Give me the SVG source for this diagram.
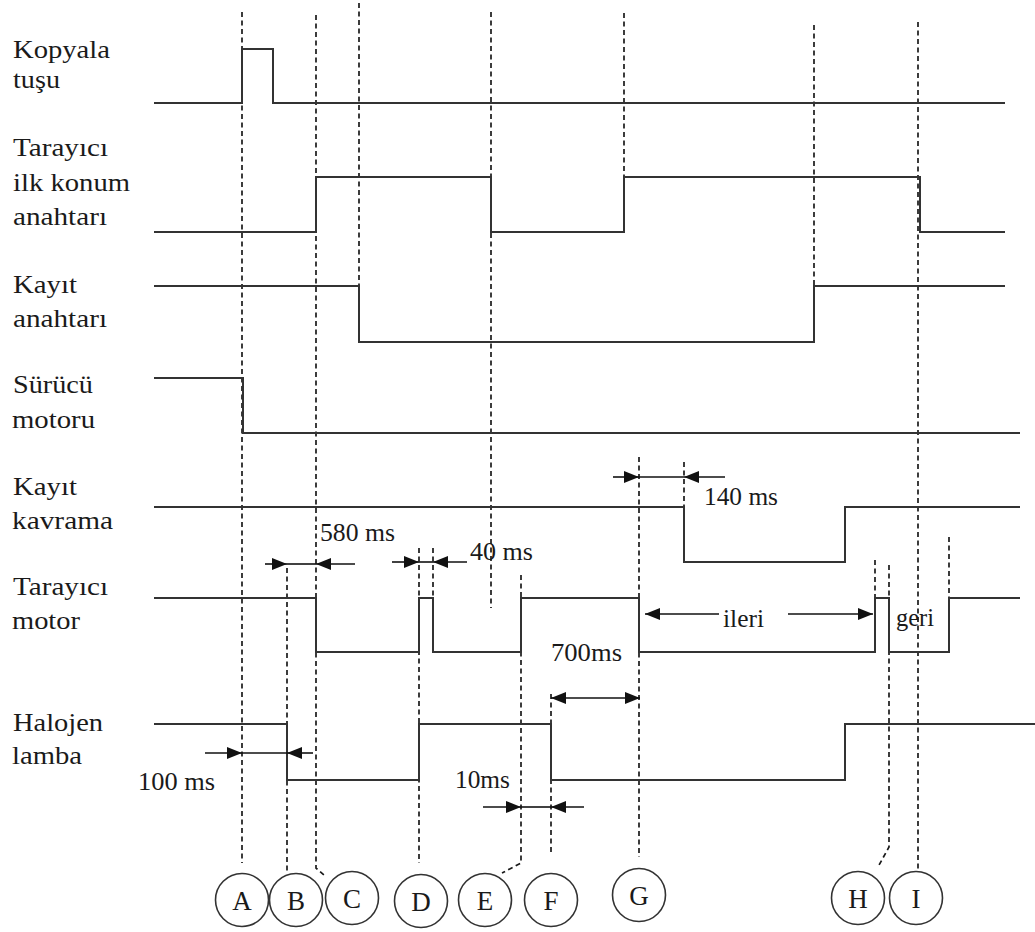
<svg xmlns="http://www.w3.org/2000/svg" width="1035" height="932" viewBox="0 0 1035 932">
<style>
  .bg { fill: #ffffff; }
  .lbl { font-family: "Liberation Serif", "Times New Roman", serif; font-size: 26px; fill: #1a1a1a; }
  .dim { font-family: "Liberation Serif", "Times New Roman", serif; font-size: 25px; fill: #1a1a1a; }
  .sig { fill: none; stroke: #333; stroke-width: 2; }
  .dash { fill: none; stroke: #1a1a1a; stroke-width: 1.7; stroke-dasharray: 5 3.5; }
  .arr { fill: none; stroke: #111; stroke-width: 1.6; }
  .circ { fill: #ffffff; stroke: #333; stroke-width: 1.6; }
  .cl { font-family: "Liberation Serif", "Times New Roman", serif; font-size: 27px; fill: #1a1a1a; text-anchor: middle; }
</style>
<defs>
  <marker id="ah" viewBox="0 0 15 12" refX="15" refY="6" markerWidth="15" markerHeight="12" markerUnits="userSpaceOnUse" orient="auto">
    <path d="M0,0 L15,6 L0,12 Z" fill="#111"/>
  </marker>
</defs>
<rect class="bg" x="0" y="0" width="1035" height="932"/>

<g id="connectors">
  <path class="dash" d="M242,12 V863"/>
  <path class="dash" d="M287,568 V873"/>
  <path class="dash" d="M316,15 V868 L325,876"/>
  <path class="dash" d="M359,3 V286"/>
  <path class="dash" d="M491,12 V608"/>
  <path class="dash" d="M419,548 V863"/>
  <path class="dash" d="M433,548 V598"/>
  <path class="dash" d="M521,575 V863 L502,873"/>
  <path class="dash" d="M551,694 V853"/>
  <path class="dash" d="M639,457 V857"/>
  <path class="dash" d="M684,462 V507"/>
  <path class="dash" d="M624,13 V232"/>
  <path class="dash" d="M814,25 V342"/>
  <path class="dash" d="M875,560 V598"/>
  <path class="dash" d="M889,565 V847 L878,867"/>
  <path class="dash" d="M918,22 V871"/>
  <path class="dash" d="M949,537 V598"/>
</g>

<g id="row-kopyala">
  <text class="lbl" x="13" y="58" textLength="97" lengthAdjust="spacingAndGlyphs">Kopyala</text>
  <text class="lbl" x="13" y="88" textLength="47" lengthAdjust="spacingAndGlyphs">tuşu</text>
  <path class="sig" d="M154,103 H242 V49 H273 V103 H1005"/>
</g>
<g id="row-tarayici-ilk-konum">
  <text class="lbl" x="13" y="156" textLength="95" lengthAdjust="spacingAndGlyphs">Tarayıcı</text>
  <text class="lbl" x="13" y="191" textLength="117" lengthAdjust="spacingAndGlyphs">ilk konum</text>
  <text class="lbl" x="13" y="225" textLength="94" lengthAdjust="spacingAndGlyphs">anahtarı</text>
  <path class="sig" d="M154,232 H316 V177 H491 V232 H624 V177 H920 V232 H1005"/>
</g>
<g id="row-kayit-anahtari">
  <text class="lbl" x="13" y="293" textLength="64" lengthAdjust="spacingAndGlyphs">Kayıt</text>
  <text class="lbl" x="13" y="327" textLength="94" lengthAdjust="spacingAndGlyphs">anahtarı</text>
  <path class="sig" d="M154,286 H359 V342 H814 V286 H1005"/>
</g>
<g id="row-surucu-motoru">
  <text class="lbl" x="13" y="393" textLength="80" lengthAdjust="spacingAndGlyphs">Sürücü</text>
  <text class="lbl" x="12" y="428" textLength="83" lengthAdjust="spacingAndGlyphs">motoru</text>
  <path class="sig" d="M154,378 H243 V433 H1020"/>
</g>
<g id="row-kayit-kavrama">
  <text class="lbl" x="13" y="495" textLength="64" lengthAdjust="spacingAndGlyphs">Kayıt</text>
  <text class="lbl" x="12" y="529" textLength="101" lengthAdjust="spacingAndGlyphs">kavrama</text>
  <path class="sig" d="M154,507 H684 V562 H845 V507 H1020"/>
</g>
<g id="row-tarayici-motor">
  <text class="lbl" x="13" y="595" textLength="95" lengthAdjust="spacingAndGlyphs">Tarayıcı</text>
  <text class="lbl" x="12" y="629" textLength="68" lengthAdjust="spacingAndGlyphs">motor</text>
  <path class="sig" d="M154,598 H316 V652 H419 V598 H433 V652 H521 V598 H639 V652 H875 V598 H889 V652 H949 V598 H1020"/>
</g>
<g id="row-halojen-lamba">
  <text class="lbl" x="13" y="731" textLength="90" lengthAdjust="spacingAndGlyphs">Halojen</text>
  <text class="lbl" x="12" y="764" textLength="70" lengthAdjust="spacingAndGlyphs">lamba</text>
  <path class="sig" d="M154,724 H287 V780 H419 V724 H551 V780 H845 V724 H1035"/>
</g>

<g id="dimensions">
  <!-- 100 ms -->
  <path class="arr" d="M205,753 H242" marker-end="url(#ah)"/>
  <path class="arr" d="M313,753 H287" marker-end="url(#ah)"/>
  <path class="arr" d="M242,753 H287"/>
  <text class="dim" x="138" y="790" textLength="77" lengthAdjust="spacingAndGlyphs">100 ms</text>
  <!-- 580 ms -->
  <path class="arr" d="M265,564 H287" marker-end="url(#ah)"/>
  <path class="arr" d="M355,564 H316" marker-end="url(#ah)"/>
  <path class="arr" d="M287,564 H316"/>
  <text class="dim" x="320" y="541" textLength="75" lengthAdjust="spacingAndGlyphs">580 ms</text>
  <!-- 40 ms -->
  <path class="arr" d="M392,562 H419" marker-end="url(#ah)"/>
  <path class="arr" d="M467,562 H433" marker-end="url(#ah)"/>
  <path class="arr" d="M419,562 H433"/>
  <text class="dim" x="470" y="560" textLength="63" lengthAdjust="spacingAndGlyphs">40 ms</text>
  <!-- 140 ms -->
  <path class="arr" d="M613,477 H639" marker-end="url(#ah)"/>
  <path class="arr" d="M725,477 H684" marker-end="url(#ah)"/>
  <path class="arr" d="M639,477 H684"/>
  <text class="dim" x="704" y="505" textLength="74" lengthAdjust="spacingAndGlyphs">140 ms</text>
  <!-- 700ms -->
  <path class="arr" d="M595,698 H551" marker-end="url(#ah)"/>
  <path class="arr" d="M595,698 H640" marker-end="url(#ah)"/>
  <text class="dim" x="551" y="661" textLength="71" lengthAdjust="spacingAndGlyphs">700ms</text>
  <!-- 10ms -->
  <path class="arr" d="M483,807 H521" marker-end="url(#ah)"/>
  <path class="arr" d="M584,807 H551" marker-end="url(#ah)"/>
  <path class="arr" d="M521,807 H551"/>
  <text class="dim" x="455" y="788" textLength="55" lengthAdjust="spacingAndGlyphs">10ms</text>
  <!-- ileri / geri -->
  <path class="arr" d="M719,614 H645" marker-end="url(#ah)"/>
  <path class="arr" d="M788,614 H873" marker-end="url(#ah)"/>
  <text class="dim" x="723" y="627" textLength="41" lengthAdjust="spacingAndGlyphs">ileri</text>
  <text class="dim" x="896" y="626" textLength="38" lengthAdjust="spacingAndGlyphs">geri</text>
</g>

<g id="point-A"><circle class="circ" cx="242" cy="900" r="26.5"/><text class="cl" x="242" y="910">A</text></g>
<g id="point-B"><circle class="circ" cx="296" cy="900" r="26.5"/><text class="cl" x="296" y="910">B</text></g>
<g id="point-C"><circle class="circ" cx="352" cy="898" r="26.5"/><text class="cl" x="352" y="908">C</text></g>
<g id="point-D"><circle class="circ" cx="421" cy="901" r="26.5"/><text class="cl" x="421" y="911">D</text></g>
<g id="point-E"><circle class="circ" cx="485" cy="900" r="26.5"/><text class="cl" x="485" y="910">E</text></g>
<g id="point-F"><circle class="circ" cx="551" cy="900" r="26.5"/><text class="cl" x="551" y="910">F</text></g>
<g id="point-G"><circle class="circ" cx="639" cy="895" r="26.5"/><text class="cl" x="639" y="905">G</text></g>
<g id="point-H"><circle class="circ" cx="858" cy="898" r="26.5"/><text class="cl" x="858" y="908">H</text></g>
<g id="point-I"><circle class="circ" cx="916" cy="898" r="26.5"/><text class="cl" x="916" y="908">I</text></g>
</svg>
